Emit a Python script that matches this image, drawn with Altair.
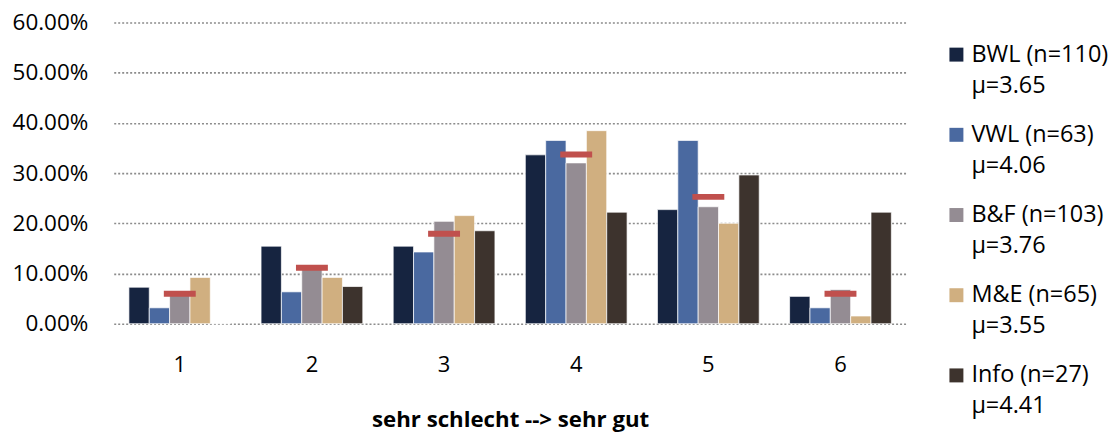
import altair as alt
import pandas as pd

categories = ["1", "2", "3", "4", "5", "6"]
series = ["BWL", "VWL", "B&F", "M&E", "Info"]
legend_line1 = ["BWL (n=110)", "VWL (n=63)", "B&F (n=103)", "M&E (n=65)", "Info (n=27)"]
legend_line2 = ["μ=3.65", "μ=4.06", "μ=3.76", "μ=3.55", "μ=4.41"]
colors = ["#162440", "#4a69a0", "#948c93", "#d0af80", "#3d332d"]

bwl = [7.27, 15.45, 15.45, 33.64, 22.73, 5.45]
vwl = [3.17, 6.35, 14.29, 36.51, 36.51, 3.17]
bf = [5.83, 11.65, 20.39, 32.04, 23.30, 6.80]
me = [9.23, 9.23, 21.54, 38.46, 20.00, 1.54]
info = [0.0, 7.41, 18.52, 22.22, 29.63, 22.22]
overall = [5.98, 11.14, 17.93, 33.70, 25.27, 5.98]

rows = []
for s, vals in zip(series, [bwl, vwl, bf, me, info]):
    for c, v in zip(categories, vals):
        rows.append({"cat": c, "series": s, "value": v / 100})
df = pd.DataFrame(rows)
avg_df = pd.DataFrame({"cat": categories, "value": [v / 100 for v in overall]})
leg_df = pd.DataFrame({"series": series, "line1": legend_line1, "line2": legend_line2})

FONT = "Open Sans"
color_scale = alt.Scale(domain=series, range=colors)

x_enc = alt.X("cat:N", sort=categories,
              scale=alt.Scale(paddingInner=0.23, paddingOuter=0.115),
              axis=alt.Axis(title="sehr schlecht --> sehr gut", labelAngle=0,
                            labelFontSize=22, labelPadding=31, ticks=False, domain=False,
                            titleFontSize=22.3, titleFontWeight="bold", titlePadding=33,
                            labelColor="#000", titleColor="#000"))
y_enc = alt.Y("value:Q", scale=alt.Scale(domain=[0, 0.6], nice=False),
              axis=alt.Axis(title=None, format=".2%", values=[0, 0.1, 0.2, 0.3, 0.4, 0.5, 0.6],
                            labelFontSize=22.5, labelPadding=26, ticks=False, tickSize=0,
                            domain=False, grid=True, gridColor="#8c8c8c",
                            gridDash=[2, 2], gridWidth=1.6, labelColor="#000"))

bars = alt.Chart(df).mark_bar(stroke="white", strokeWidth=0.7).encode(
    x=x_enc,
    xOffset=alt.XOffset("series:N", sort=series),
    y=y_enc,
    color=alt.Color("series:N", sort=series, scale=color_scale, legend=None),
)

ticks = alt.Chart(avg_df).mark_tick(color="#c0504d", size=32, thickness=6, opacity=1).encode(
    x=alt.X("cat:N", sort=categories),
    y=alt.Y("value:Q"),
)

main = alt.layer(bars, ticks).properties(width=795, height=302)

leg_y = alt.Y("series:N", sort=series, scale=alt.Scale(type="point", padding=0.4), axis=None)
leg_base = alt.Chart(leg_df)
leg_sym = leg_base.mark_square(size=196, opacity=1).encode(
    x=alt.value(7), y=leg_y,
    color=alt.Color("series:N", sort=series, scale=color_scale, legend=None),
)
leg_t1 = leg_base.mark_text(align="left", baseline="middle", fontSize=23.5, color="#000").encode(
    x=alt.value(22), y=leg_y, text="line1:N")
leg_t2 = leg_base.mark_text(align="left", baseline="middle", fontSize=23.5, color="#000", dy=31).encode(
    x=alt.value(22), y=leg_y, text="line2:N")
legend = alt.layer(leg_sym, leg_t1, leg_t2).properties(width=150, height=386)

chart = alt.hconcat(main, legend, spacing=43).properties(
    padding={"left": 4, "top": 3, "right": 0, "bottom": 0},
).configure(font=FONT).configure_view(strokeWidth=0)

chart.save("out.html", embed_options={"renderer": "svg", "actions": False})
